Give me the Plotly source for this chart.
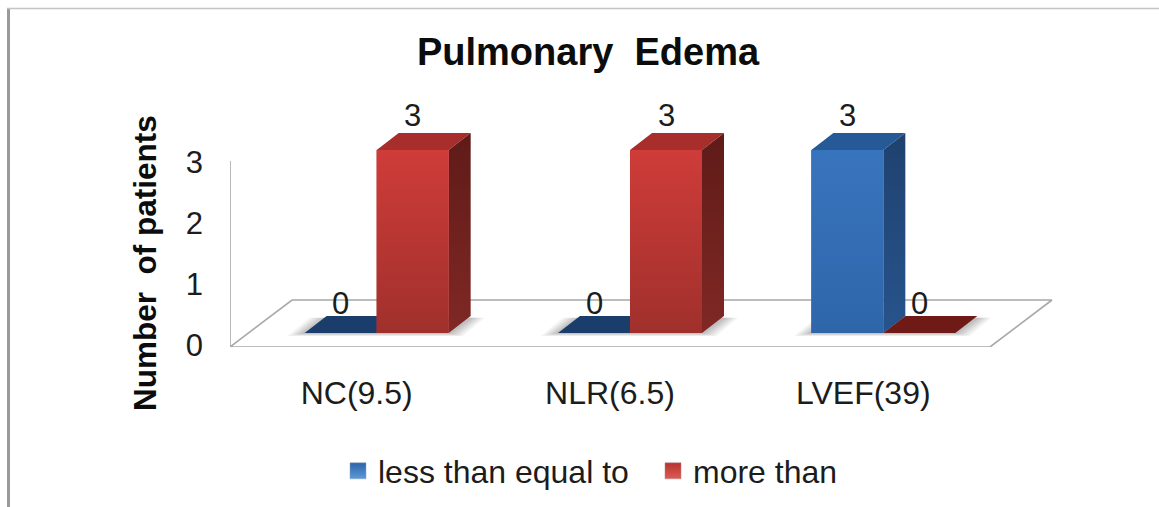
import plotly.graph_objects as go

TITLE = "Pulmonary\u00a0\u00a0Edema"
Y_TITLE = "Number\u00a0\u00a0of patients"
categories = ["NC(9.5)", "NLR(6.5)", "LVEF(39)"]
series_names = ["less than equal to", "more than"]
less_equal = [0, 0, 3]
more_than = [3, 3, 0]
y_ticks = [0, 1, 2, 3]

W, H = 1159, 507
FLOOR_L, FLOOR_R, FLOOR_Y = 230, 990, 347
XMIN, XMAX_F, X_TOP, WALL_V, Y_TOP = -0.5, 2.5, 2.8, 3.05, 3.6
PX_X = (FLOOR_R - FLOOR_L) / (XMAX_F - XMIN)
PX_Y = 61.0
BAR_W = 72 / PX_X
FRONT = (20 / PX_X, 14 / PX_Y)
BACK = (42 / PX_X, 31 / PX_Y)
FLOOR_D = (62 / PX_X, 47 / PX_Y)
FONT = "Liberation Sans"
TEXT = "#1c1c1c"
AXIS = "#a8a8a8"

fig = go.Figure()


def poly(pts, color=None, line=None, width=0, grad=None, opacity=1.0, xa="x", ya="y"):
    xs = [p[0] for p in pts] + [pts[0][0]]
    ys = [p[1] for p in pts] + [pts[0][1]]
    kw = {}
    if grad:
        kw["fillgradient"] = dict(type="vertical", colorscale=[[0, grad[0]], [1, grad[1]]])
    elif color:
        kw["fillcolor"] = color
    fig.add_trace(go.Scatter(
        x=xs, y=ys, mode="lines", fill="toself" if (color or grad) else "none",
        line=dict(color=line or "rgba(0,0,0,0)", width=width), opacity=opacity,
        showlegend=False, hoverinfo="skip", xaxis=xa, yaxis=ya, cliponaxis=False, **kw))


# floor and wall
poly([(XMIN, 0), (XMAX_F, 0), (XMAX_F + FLOOR_D[0], FLOOR_D[1]), (XMIN + FLOOR_D[0], FLOOR_D[1])],
     line=AXIS, width=1.6)
fig.add_trace(go.Scatter(x=[XMIN, XMIN], y=[0, WALL_V], mode="lines", cliponaxis=False,
                         line=dict(color=AXIS, width=1.6), showlegend=False, hoverinfo="skip"))

# soft floor shadows
for i in range(len(categories)):
    for grow, op in ((1.0, 0.10), (0.8, 0.12), (0.6, 0.14), (0.4, 0.16), (0.2, 0.2)):
        gx = 17 / PX_X * grow
        gy = 3 / PX_Y * grow
        rx = 14 / PX_X * grow
        poly([(i - BAR_W + FRONT[0] - gx, FRONT[1] - gy),
              (i + BAR_W + FRONT[0] + rx, FRONT[1] - gy),
              (i + BAR_W + BACK[0] + rx, BACK[1] - 0.03),
              (i - BAR_W + BACK[0] - gx, BACK[1] - 0.03)],
             color="#8c8c8c", opacity=op)

styles = [
    dict(top="#265a96", side=("#27548c", "#1f416f"), zero="#1b3d6b",
         front=("#3874bd", "#2f66aa"), mean="#3370b5", legend="#2c64a8"),
    dict(top="#a82e2b", side=("#802825", "#5f1b18"), zero="#701a17",
         front=("#cf3c39", "#a0302c"), mean="#b83532", legend="#b5322f"),
]

# depth faces (top and side)
for s, vals in enumerate([less_equal, more_than]):
    st = styles[s]
    for i, v in enumerate(vals):
        x0 = i - BAR_W + s * BAR_W
        x1 = x0 + BAR_W
        top = [(x0 + FRONT[0], v + FRONT[1]), (x1 + FRONT[0], v + FRONT[1]),
               (x1 + BACK[0], v + BACK[1]), (x0 + BACK[0], v + BACK[1])]
        poly(top, color=st["top"] if v > 0 else st["zero"])
        if v > 0:
            poly([(x1 + FRONT[0], FRONT[1]), (x1 + BACK[0], BACK[1]),
                  (x1 + BACK[0], v + BACK[1]), (x1 + FRONT[0], v + FRONT[1])],
                 grad=st["side"])

# front faces on a second pair of axes, shifted into the depth of the chart
for s, vals in enumerate([less_equal, more_than]):
    fig.add_trace(go.Bar(x=list(range(len(categories))), y=vals, name=series_names[s],
                         marker=dict(color=styles[s]["mean"], line=dict(width=0)),
                         xaxis="x2", yaxis="y2", showlegend=False,
                         offsetgroup=str(s), hoverinfo="skip"))
for s, vals in enumerate([less_equal, more_than]):
    for i, v in enumerate(vals):
        if v > 0:
            x0 = i - BAR_W + s * BAR_W
            x1 = x0 + BAR_W
            poly([(x0, 0), (x1, 0), (x1, v), (x0, v)], grad=styles[s]["front"][::-1],
                 xa="x2", ya="y2")

# legend entries
for s, name in enumerate(series_names):
    fig.add_trace(go.Scatter(
        x=[None], y=[None], mode="markers", name=name,
        marker=dict(symbol="square", size=19, color=styles[s]["legend"],
                    line=dict(color="#8fa0b8" if s == 0 else "#b08a88", width=0.5),
                    gradient=dict(type="vertical",
                                  color="#5c9ad8" if s == 0 else "#dd5a55")),
    ))

# value labels
annotations = []
for s, vals in enumerate([less_equal, more_than]):
    for i, v in enumerate(vals):
        annotations.append(dict(
            x=i - BAR_W / 2 + s * BAR_W, y=v, xref="x2", yref="y2", text=str(v),
            showarrow=False, yshift=34 if v > 0 else 30, yanchor="middle",
            font=dict(family=FONT, size=31, color=TEXT)))
annotations.append(dict(
    x=145 / W, y=1 - 263 / H, xref="paper", yref="paper", text=Y_TITLE, textangle=-90,
    showarrow=False, xanchor="center", yanchor="middle",
    font=dict(family=FONT, size=31.5, color="#0c0c0c", weight="bold")))

plot_w = (X_TOP - XMIN) * PX_X
plot_h = Y_TOP * PX_Y
dom_x = [FLOOR_L / W, (FLOOR_L + plot_w) / W]
dom_y = [1 - FLOOR_Y / H, 1 - (FLOOR_Y - plot_h) / H]
shift_x = FRONT[0] * PX_X / W
shift_y = FRONT[1] * PX_Y / H

fig.update_layout(
    width=W, height=H, margin=dict(l=0, r=0, t=0, b=0, autoexpand=False),
    paper_bgcolor="white", plot_bgcolor="rgba(0,0,0,0)",
    barmode="group", bargap=1 - 2 * BAR_W, bargroupgap=0,
    title=dict(text=TITLE, x=588 / W, y=1 - 52 / H, xanchor="center", yanchor="middle",
               font=dict(family=FONT, size=38, color="#0c0c0c", weight="bold")),
    xaxis=dict(domain=dom_x, range=[XMIN, X_TOP], tickmode="array",
               tickvals=list(range(len(categories))), ticktext=categories,
               showgrid=False, zeroline=False, showline=False, ticks="",
               ticklabelstandoff=24, tickfont=dict(family=FONT, size=32, color=TEXT)),
    yaxis=dict(domain=dom_y, range=[0, Y_TOP], tickmode="array", tickvals=y_ticks,
               showgrid=False, zeroline=False, showline=False, ticks="",
               ticklabelstandoff=26, ticklabelshift=-2,
               tickfont=dict(family=FONT, size=31, color=TEXT)),
    xaxis2=dict(domain=[dom_x[0] + shift_x, dom_x[1] + shift_x], range=[XMIN, X_TOP],
                visible=False, anchor="y2"),
    yaxis2=dict(domain=[dom_y[0] + shift_y, dom_y[1] + shift_y], range=[0, Y_TOP],
                visible=False, anchor="x2"),
    legend=dict(orientation="h", x=338 / W, y=1 - 471 / H, xanchor="left", yanchor="middle",
                font=dict(family=FONT, size=32, color=TEXT), bgcolor="rgba(0,0,0,0)",
                entrywidth=270, entrywidthmode="pixels",
                itemclick=False, itemdoubleclick=False),
    annotations=annotations,
    shapes=[
        dict(type="line", xref="paper", yref="paper", x0=8.5 / W, x1=8.5 / W, y0=0, y1=1 - 8 / H,
             line=dict(color="#9a9a9a", width=3)),
        dict(type="line", xref="paper", yref="paper", x0=7 / W, x1=1, y0=1 - 8.5 / H, y1=1 - 8.5 / H,
             line=dict(color="#c4c4c4", width=1.5)),
    ],
)

fig.write_html("out.html", config=dict(displayModeBar=False),
               post_script="document.body.style.margin='0';document.body.style.overflow='hidden';")
